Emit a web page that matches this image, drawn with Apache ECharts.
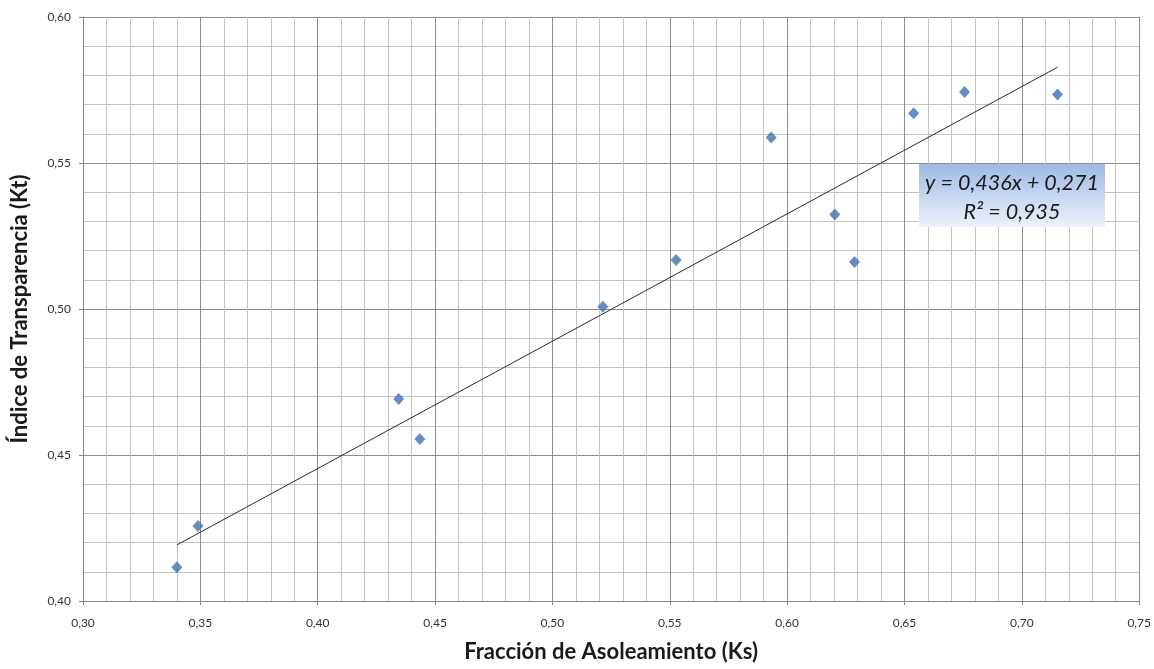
<!DOCTYPE html>
<html>
<head>
<meta charset="utf-8">
<script src="https://cdn.jsdelivr.net/npm/echarts@6/dist/echarts.min.js"></script>
<style>
html,body{margin:0;padding:0;background:#fff;}
#c{width:1154px;height:669px;}
</style>
</head>
<body>
<div id="c"></div>
<script>
// Data
var ksValues = [0.340, 0.349, 0.4345, 0.4435, 0.5215, 0.5527, 0.5932, 0.6203, 0.6287, 0.6539, 0.6756, 0.7152];
var ktValues = [0.4116, 0.4257, 0.4692, 0.4555, 0.5008, 0.5168, 0.5587, 0.5324, 0.5161, 0.5670, 0.5743, 0.5735];
var trendX = [0.340, 0.7152];
var trendY = [0.4192, 0.5828];
var equationLines = ['y = 0,436x + 0,271', 'R\u00B2 = 0,935'];
var xTitle = 'Fracción de Asoleamiento (Ks)';
var yTitle = 'Índice de Transparencia (Kt)';

var points = ksValues.map(function (x, i) { return [x, ktValues[i]]; });
var trend = trendX.map(function (x, i) { return [x, trendY[i]]; });

function fmt(v) { return v.toFixed(2).replace('.', ','); }

var chart = echarts.init(document.getElementById('c'));
var axisCommon = {
  type: 'value',
  interval: 0.05,
  axisLine: { show: true, lineStyle: { color: '#868686', width: 1 } },
  axisTick: { show: true, inside: false, length: 4, lineStyle: { color: '#868686' } },
  axisLabel: { formatter: fmt, color: '#333333', fontSize: 12, fontFamily: 'Lato' },
  splitLine: { show: true, lineStyle: { color: '#8c8c8c', width: 1 } },
  minorTick: { show: false, splitNumber: 5 },
  minorSplitLine: { show: true, lineStyle: { color: '#c4c4c4', width: 1 } },
  nameLocation: 'middle',
  nameTextStyle: { fontFamily: 'Lato', fontWeight: 'bold', fontSize: 22, color: '#1a1a1a' }
};

chart.setOption({
  animation: false,
  backgroundColor: '#ffffff',
  grid: { left: 83, right: 14, top: 17, bottom: 68, containLabel: false },
  xAxis: Object.assign({}, axisCommon, {
    min: 0.30, max: 0.75,
    name: xTitle, nameGap: 40,
    axisLabel: Object.assign({}, axisCommon.axisLabel, { margin: 16 })
  }),
  yAxis: Object.assign({}, axisCommon, {
    min: 0.40, max: 0.60,
    name: yTitle, nameGap: 52, nameRotate: 90,
    axisLabel: Object.assign({}, axisCommon.axisLabel, { margin: 12 })
  }),
  series: [
    {
      type: 'line',
      data: trend,
      showSymbol: false,
      symbol: 'none',
      lineStyle: { color: '#2b2b2b', width: 1 },
      z: 3,
      silent: true
    },
    {
      type: 'scatter',
      data: points,
      symbol: 'diamond',
      symbolSize: [11, 12],
      itemStyle: { color: '#3f72b0' },
      z: 4
    }
  ],
  graphic: [
    {
      type: 'rect',
      left: 919,
      top: 164,
      z: 100,
      zlevel: 1,
      shape: { x: 0, y: 0, width: 186, height: 63 },
      style: {
        fill: new echarts.graphic.LinearGradient(0, 0, 0, 1, [
          { offset: 0, color: '#9fb9e4' },
          { offset: 1, color: '#eef2fa' }
        ])
      }
    },
    {
      type: 'text',
      left: 922,
      top: 169,
      z: 101,
      zlevel: 1,
      style: {
        text: equationLines.join('\n'),
        textAlign: 'center',
        width: 180,
        lineHeight: 29,
        fontFamily: 'Lato', fontStyle: 'italic', fontSize: 21.5, fill: '#1a1a1a'
      }
    }
  ]
});
</script>
</body>
</html>
